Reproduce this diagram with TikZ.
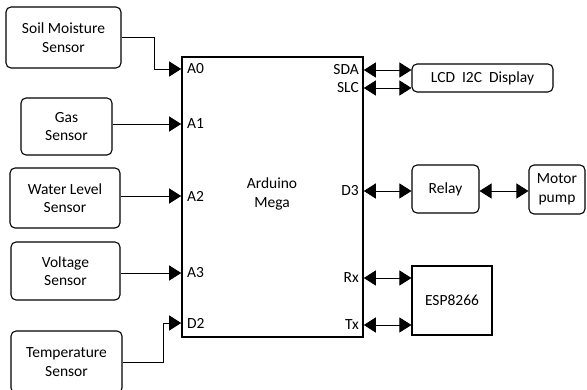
\documentclass[tikz,border=0pt]{standalone}
\usepackage{fontspec}
\setmainfont{Carlito}
\usepackage{tikz}
\usetikzlibrary{arrows.meta}

\tikzset{
    blk/.style={draw, line width=1.1pt, rounded corners=5pt, align=center, inner sep=0pt},
    pin/.style={inner sep=1pt},
    sig/.style={line width=0.9pt, -{Triangle[length=12pt,width=15pt]}},
    bus/.style={line width=0.9pt, {Triangle[length=12pt,width=15pt]}-{Triangle[length=12pt,width=15pt]}}
}

\begin{document}
\begin{tikzpicture}[x=1pt, y=-1pt, font=\fontsize{15.5}{18.5}\selectfont]
    \useasboundingbox (0,0) rectangle (587,390);

    % Controller
    \node[draw, line width=1.6pt, minimum width=181pt, minimum height=280pt, inner sep=0pt] (mega) at (272.5,197) {};
    \node[align=center] (megatxt) at (272,194) {Arduino\\Mega};
    \node[pin, anchor=west] (pA0) at (186,69) {A0};
    \node[pin, anchor=west] (pA1) at (186,124) {A1};
    \node[pin, anchor=west] (pA2) at (186,196) {A2};
    \node[pin, anchor=west] (pA3) at (186,273) {A3};
    \node[pin, anchor=west] (pD2) at (186,323) {D2};
    \node[pin, anchor=east] (pSDA) at (360,70) {SDA};
    \node[pin, anchor=east] (pSLC) at (360,88) {SLC};
    \node[pin, anchor=east] (pD3) at (360,191) {D3};
    \node[pin, anchor=east] (pRx) at (360,278) {Rx};
    \node[pin, anchor=east] (pTx) at (360,325) {Tx};

    % Sensors
    \node[blk, minimum width=115pt, minimum height=61pt] (soil) at (63.5,37.5) {Soil Moisture\\Sensor};
    \node[blk, minimum width=91pt, minimum height=57pt] (gas) at (66.5,126.5) {Gas\\Sensor};
    \node[blk, minimum width=110pt, minimum height=60pt] (water) at (65,198) {Water Level\\Sensor};
    \node[blk, minimum width=109pt, minimum height=58pt] (volt) at (65.5,271) {Voltage\\Sensor};
    \node[blk, minimum width=111pt, minimum height=62pt] (temp) at (66.5,362) {Temperature\\Sensor};

    \draw[sig] (soil.east) -- ++(33,0) |- (mega.west |- pA0);
    \draw[sig] (gas.east |- pA1) -- (mega.west |- pA1);
    \draw[sig] (water.east |- pA2) -- (mega.west |- pA2);
    \draw[sig] (volt.east |- pA3) -- (mega.west |- pA3);
    \draw[sig] (temp.east) -- ++(41,0) |- (mega.west |- pD2);

    % Outputs
    \node[blk, minimum width=141pt, minimum height=28pt] (lcd) at (482.5,78) {LCD\ \ I2C\ \ Display};
    \node[blk, minimum width=67pt, minimum height=48pt] (relay) at (445.5,189) {Relay};
    \node[blk, minimum width=56pt, minimum height=49pt] (motor) at (557,189.5) {Motor\\pump};
    \node[blk, rounded corners=0pt, minimum width=80pt, minimum height=69pt] (esp) at (452,300.5) {ESP8266};

    \draw[bus] (mega.east |- pSDA) -- (lcd.west |- pSDA);
    \draw[bus] (mega.east |- pSLC) -- (lcd.west |- pSLC);
    \draw[bus] (mega.east |- pD3) -- (relay.west |- pD3);
    \draw[bus] (relay.east |- pD3) -- (motor.west |- pD3);
    \draw[bus] (mega.east |- pRx) -- (esp.west |- pRx);
    \draw[bus] (mega.east |- pTx) -- (esp.west |- pTx);
\end{tikzpicture}
\end{document}
